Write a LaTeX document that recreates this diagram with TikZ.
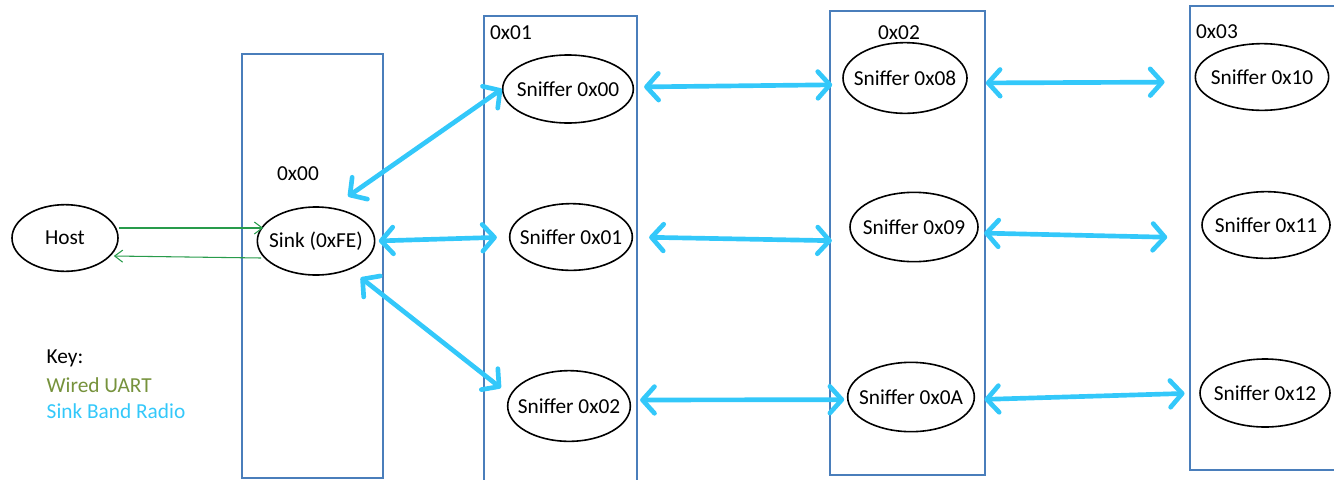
\documentclass[tikz,border=0pt]{standalone}
\usepackage{fontspec}
\setmainfont{Carlito}
\usetikzlibrary{shapes.geometric,arrows.meta}

\definecolor{boxblue}{RGB}{74,126,187}
\definecolor{radioblue}{RGB}{51,200,250}
\definecolor{uartgreen}{RGB}{40,155,75}
\definecolor{keygreen}{RGB}{118,146,60}

\begin{document}
\begin{tikzpicture}[x=0.75pt, y=-0.75pt,
	font=\fontsize{16}{19}\selectfont,
	mote/.style={draw, ellipse, line width=1.2pt, inner sep=-14pt, minimum width=95pt, minimum height=51pt},
	band/.style={draw=boxblue, line width=1pt},
	radio/.style={radioblue, line width=3.5pt, line cap=round,
		{Straight Barb[length=9pt,width=20pt,round]}-{Straight Barb[length=9pt,width=20pt,round]}},
	uart/.style={uartgreen, line width=0.8pt, -{Straight Barb[length=6pt,width=9pt]}}]

\def\width{1334}
\def\height{479}

\path [use as bounding box] (0,0) rectangle (\width,\height);

% BANDS
\draw [band] (242,54) rectangle (383,478);
\draw [band] (484,16) rectangle (637,486);
\draw [band] (830,11) rectangle (985,475);
\draw [band] (1190,6) rectangle (1340,470);

\node (b00) at (298,174) {0x00};
\node (b01) at (511,33) {0x01};
\node (b02) at (899,33) {0x02};
\node (b03) at (1217,32) {0x03};

% MOTES
\node [mote, minimum width=79.5pt, minimum height=50pt] (host) at (65,238) {Host};
\node [mote, minimum width=88pt] (sink) at (316,241) {Sink (0xFE)};

\node [mote, minimum width=98pt] (s00) at (568,89) {Sniffer 0x00};
\node [mote, minimum width=92pt, minimum height=50pt] (s01) at (571,237) {Sniffer 0x01};
\node [mote, minimum width=92pt, minimum height=53pt] (s02) at (569,406) {Sniffer 0x02};

\node [mote, minimum width=93pt, minimum height=53pt] (s08) at (905,78) {Sniffer 0x08};
\node [mote, minimum width=96pt, minimum height=52pt] (s09) at (914,227) {Sniffer 0x09};
\node [mote, minimum width=95pt, minimum height=52pt] (s0A) at (911,397) {Sniffer 0x0A};

\node [mote, minimum width=100pt, minimum height=50pt] (s10) at (1262,77) {Sniffer 0x10};
\node [mote, minimum width=96pt, minimum height=50pt] (s11) at (1266,225) {Sniffer 0x11};
\node [mote, minimum width=97.5pt] (s12) at (1265,393) {Sniffer 0x12};

% UART
\draw [uart] ([yshift=7.5pt]host.east) -- ([shift={(5pt,9.75pt)}]sink.west);
\draw [uart] ([shift={(3.5pt,-12.75pt)}]sink.west) -- ([shift={(-3.75pt,-13.5pt)}]host.east);

% RADIO
\draw [radio] ([shift={(-7.5pt,15pt)}]sink.north east) -- (s00.west);
\draw [radio, shorten <=2.5pt, shorten >=9pt] (sink.east) -- (s01.west);
\draw [radio] ([shift={(2pt,-9pt)}]sink.south east) -- ([shift={(-4.5pt,13.5pt)}]s02.west);

\draw [radio, shorten <=7.5pt, shorten >=7.5pt] ([yshift=1.5pt]s00.east) -- ([yshift=-5pt]s08.west);
\draw [radio, shorten <=12pt, shorten >=13pt] (s01.east) -- ([yshift=-10.5pt]s09.west);
\draw [radio, shorten <=6.75pt, shorten >=2pt] ([yshift=4.5pt]s02.east) -- ([yshift=-2pt]s0A.west);

\draw [radio, shorten <=13.5pt, shorten >=22.5pt] ([yshift=-3.75pt]s08.east) -- ([yshift=-3.75pt]s10.west);
\draw [radio, shorten <=4pt, shorten >=25.5pt] ([yshift=-4.5pt]s09.east) -- ([yshift=-9.75pt]s11.west);
\draw [radio, shorten <=7pt, shorten >=11pt] ([yshift=-2pt]s0A.east) -- (s12.west);

% KEY
\node [anchor=west] (key) at (42,358) {Key:};
\node [anchor=west, text=keygreen] (keyuart) at (42,385) {Wired UART};
\node [anchor=west, text=radioblue] (keyradio) at (42,411) {Sink Band Radio};

\end{tikzpicture}
\end{document}
